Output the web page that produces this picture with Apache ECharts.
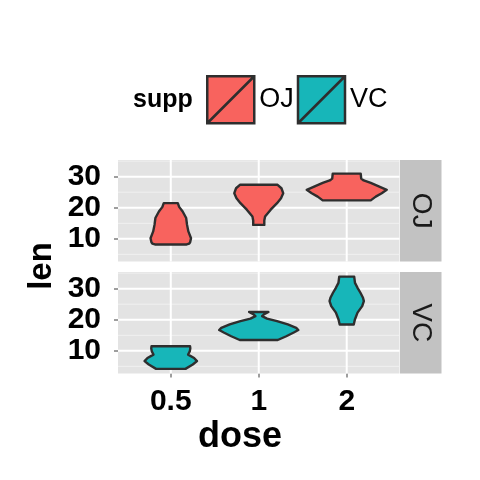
<!DOCTYPE html>
<html>
<head>
<meta charset="utf-8">
<script src="https://cdn.jsdelivr.net/npm/echarts@6/dist/echarts.min.js"></script>
<style>html,body{margin:0;padding:0;background:#fff}#c{width:480px;height:480px}</style>
</head>
<body>
<div id="c"></div>
<script>
// ---- data ----
const doses = ['0.5', '1', '2'];
const suppNames = ['OJ', 'VC'];
// violin outlines: len values (bottom -> top) and half-widths (x-axis units)
const ojLen = [
  [8.2, 8.5, 8.9, 10.2, 12.4, 14.5, 16.7, 18.8, 20.3, 21.5],
  [14.5, 15.9, 17.2, 19.4, 21.5, 23.1, 24.7, 26.3, 27.4],
  [22.4, 23.6, 24.7, 25.8, 26.9, 28.0, 28.8, 29.4, 31.0]
];
const ojWidth = [
  [0.18, 0.21, 0.22, 0.23, 0.20, 0.185, 0.175, 0.135, 0.095, 0.08],
  [0.063, 0.063, 0.072, 0.136, 0.208, 0.253, 0.278, 0.258, 0.214],
  [0.273, 0.33, 0.398, 0.455, 0.364, 0.273, 0.193, 0.165, 0.159]
];
const vcLen = [
  [4.2, 5.6, 6.7, 7.7, 8.8, 9.9, 10.8, 11.5],
  [13.5, 14.7, 15.9, 16.7, 17.4, 18.5, 19.6, 20.4, 21.2, 21.7, 22.5],
  [18.5, 20.1, 22.3, 24.4, 26.0, 27.1, 28.7, 30.3, 31.9, 33.9]
];
const vcWidth = [
  [0.167, 0.25, 0.298, 0.265, 0.197, 0.216, 0.222, 0.219],
  [0.216, 0.313, 0.398, 0.45, 0.426, 0.33, 0.208, 0.094, 0.038, 0.057, 0.11],
  [0.08, 0.093, 0.123, 0.176, 0.195, 0.185, 0.156, 0.123, 0.094, 0.085]
];
const yTicks = [10, 20, 30];
const yMinor = [5, 15, 25, 35];
const xPositions = [1, 2, 3];
const yRange = [2.715, 35.385];
const xRange = [0.4, 3.6];

// ---- styling ----
const FONT = 'Liberation Sans, Arial, Helvetica, sans-serif';
const colors = {OJ: '#F8635E', VC: '#17B6B9'};
const panelBg = '#E3E3E3';
const stripBg = '#C2C2C2';
const panels = [
  {left: 118, top: 160, width: 281.5, height: 101.5},
  {left: 118, top: 272, width: 281.5, height: 101.5}
];

const chart = echarts.init(document.getElementById('c'));

function gridLineSeries(gi, values, orient, color, width) {
  return {
    type: 'custom', xAxisIndex: gi, yAxisIndex: gi, z: 1, silent: true,
    data: values.map(v => [v]),
    renderItem: function (params, api) {
      const cs = params.coordSys;
      const v = api.value(0);
      if (orient === 'h') {
        const y = api.coord([xRange[0], v])[1];
        return {type: 'line', shape: {x1: cs.x, y1: y, x2: cs.x + cs.width, y2: y},
                style: {stroke: color, lineWidth: width}};
      } else {
        const x = api.coord([v, yRange[0]])[0];
        return {type: 'line', shape: {x1: x, y1: cs.y, x2: x, y2: cs.y + cs.height},
                style: {stroke: color, lineWidth: width}};
      }
    }
  };
}

function violinSeries(gi, name, lens, widths) {
  return {
    type: 'custom', name: name, xAxisIndex: gi, yAxisIndex: gi, z: 3,
    itemStyle: {color: colors[name], borderColor: '#333333', borderWidth: 2},
    data: xPositions.map((x, i) => [x, i]),
    renderItem: function (params, api) {
      const cx = api.value(0);
      const i = params.dataIndex;
      const L = lens[i], W = widths[i];
      const pts = [];
      for (let k = 0; k < L.length; k++) pts.push(api.coord([cx + W[k], L[k]]));
      for (let k = L.length - 1; k >= 0; k--) pts.push(api.coord([cx - W[k], L[k]]));
      return {type: 'polygon', shape: {points: pts},
              style: {fill: colors[name], stroke: '#2E2E2E', lineWidth: 2.4, lineJoin: 'round'}};
    }
  };
}

const xAxes = panels.map((p, gi) => ({
  type: 'value', gridIndex: gi, min: xRange[0], max: xRange[1],
  axisLine: {show: false}, splitLine: {show: false},
  axisTick: gi === 1 ? {show: true, customValues: xPositions, length: 4,
                        lineStyle: {color: '#7F7F7F', width: 1.5}} : {show: false},
  axisLabel: gi === 1 ? {show: true, customValues: xPositions, margin: 13,
    formatter: v => doses[Math.round(v) - 1],
    color: '#000', fontFamily: FONT, fontWeight: 'bold', fontSize: 30} : {show: false}
}));

const yAxes = panels.map((p, gi) => ({
  type: 'value', gridIndex: gi, min: yRange[0], max: yRange[1],
  axisLine: {show: false}, splitLine: {show: false},
  axisTick: {show: true, customValues: yTicks, length: 4, lineStyle: {color: '#7F7F7F', width: 1.5}},
  axisLabel: {show: true, customValues: yTicks, margin: 17,
    color: '#000', fontFamily: FONT, fontWeight: 'bold', fontSize: 30}
}));

const series = [];
panels.forEach((p, gi) => {
  series.push(gridLineSeries(gi, yMinor, 'h', '#F0F0F0', 1));
  series.push(gridLineSeries(gi, yTicks, 'h', '#FFFFFF', 2));
  series.push(gridLineSeries(gi, xPositions, 'v', '#FFFFFF', 2));
});
series.push(violinSeries(0, 'OJ', ojLen, ojWidth));
series.push(violinSeries(1, 'VC', vcLen, vcWidth));

const graphics = [];
panels.forEach((p, gi) => {
  graphics.push({type: 'rect', left: p.left + p.width + 0.5, top: p.top,
    shape: {width: 41.5, height: p.height}, style: {fill: stripBg}, silent: true});
  graphics.push({type: 'text', x: p.left + p.width + 21.5, y: p.top + p.height / 2,
    rotation: -Math.PI / 2,
    style: {text: suppNames[gi], fill: '#1A1A1A', font: '28px ' + FONT,
            textAlign: 'center', textVerticalAlign: 'middle'}});
});
graphics.push({type: 'text', x: 42, y: 266, rotation: Math.PI / 2,
  style: {text: 'len', fill: '#000', font: 'bold 33px ' + FONT,
          textAlign: 'center', textVerticalAlign: 'middle'}});
graphics.push({type: 'text', x: 240, y: 437,
  style: {text: 'dose', fill: '#000', font: 'bold 36px ' + FONT,
          textAlign: 'center', textVerticalAlign: 'middle'}});
graphics.push({type: 'text', x: 133, y: 100,
  style: {text: 'supp', fill: '#000', font: 'bold 25px ' + FONT,
          textAlign: 'left', textVerticalAlign: 'middle'}});

chart.setOption({
  animation: false,
  backgroundColor: '#FFFFFF',
  grid: panels.map(p => Object.assign({show: true, backgroundColor: panelBg, borderWidth: 0}, p)),
  xAxis: xAxes,
  yAxis: yAxes,
  legend: {
    data: suppNames, left: 206, top: 75, padding: 0, itemGap: 3,
    itemWidth: 47, itemHeight: 47, selectedMode: false,
    icon: 'path://M0,0L10,0L10,10L0,10Z M0,10L10,0',
    itemStyle: {borderColor: '#2E2E2E', borderWidth: 2.5},
    textStyle: {color: '#000', fontFamily: FONT, fontSize: 27}
  },
  graphic: graphics,
  series: series
});
</script>
</body>
</html>
